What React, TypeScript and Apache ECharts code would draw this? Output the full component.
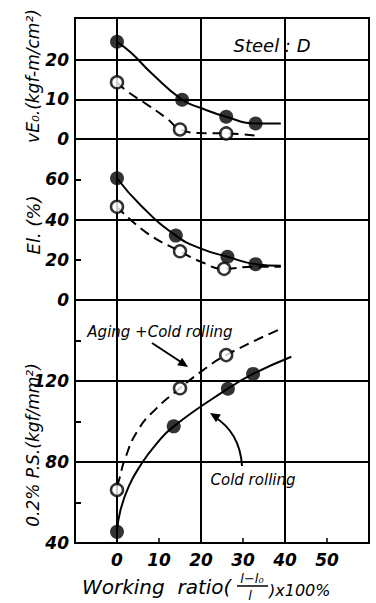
import React, { useEffect, useRef } from "react";
import * as echarts from "echarts";

// ---- data ----
const xTickLabels = [0, 10, 20, 30, 40, 50];
const topTickLabels = [0, 10, 20];
const midTickLabels = [0, 20, 40, 60];
const botTickLabels = [40, 80, 120];

// vE0 (kgf-m/cm2)
const vEcold = [[0, 24.5], [15.5, 9.9], [26, 5.6], [33, 3.9]];
const vEaging = [[0, 14.3], [15, 2.4], [26, 1.4]];
const vEcoldCurve = [[0, 24.5], [3.3, 21.8], [8.1, 16.7], [15.5, 9.9], [20, 7.8], [26, 5.6], [33, 3.9], [39, 3.9]];
const vEagingCurve = [[0, 14.3], [2.2, 12.2], [7.7, 8.3], [12.2, 4.9], [15, 2.4], [20, 1.5], [26, 1.4], [33.7, 0.8]];

// El (%)
const elCold = [[0, 60.5], [14, 32], [26.3, 21.5], [33, 17.8]];
const elAging = [[0, 46.3], [15, 24.2], [25.5, 15.5]];
const elColdCurve = [[0, 60.5], [5.8, 46.7], [14, 32], [20, 25.5], [26.3, 21.5], [33, 17.8], [39, 17]];
const elAgingCurve = [[0, 46.3], [7, 33.5], [15, 24.2], [20, 19], [25.5, 15.5], [32, 16.5], [39, 16.5]];

// 0.2% P.S. (kgf/mm2)
const psCold = [[0, 45.5], [13.5, 97.6], [26.4, 116.2], [32.4, 123.5]];
const psAging = [[0, 66.2], [15, 116.4], [26, 132.8]];
const psColdCurve = [[0, 45.5], [0.8, 56], [2.8, 68], [5.8, 79], [9, 88], [13.5, 97.6], [26.4, 116.2], [32.4, 123.5], [41.5, 132]];
const psAgingCurve = [[0, 68], [0.6, 72], [1.8, 81], [5, 95.8], [9.4, 106.5], [15, 116.4], [20, 124.6], [26, 132.8], [38.4, 145.2]];

// grid lines
const vGrid = [0, 20, 40];
const topHGrid = [10, 20];
const midHGrid = [40];
const botHGrid = [80, 120];

const FONT = "DejaVu Sans";

function arrowHead(tx: number, ty: number, fx: number, fy: number, len = 10, half = 4.5) {
  const dx = tx - fx, dy = ty - fy;
  const d = Math.sqrt(dx * dx + dy * dy);
  const ux = dx / d, uy = dy / d;
  const bx = tx - ux * len, by = ty - uy * len;
  return [[tx, ty], [bx - uy * half, by + ux * half], [bx + uy * half, by - ux * half]];
}

export default function App() {
  const ref = useRef<HTMLDivElement>(null);
  useEffect(() => {
    const chart = echarts.init(ref.current!, null, { renderer: "svg" });
    const grids = [
      { left: 75, right: 7, top: 18, height: 121 },
      { left: 75, right: 7, top: 139, height: 161 },
      { left: 75, right: 7, top: 300, height: 243 },
    ].map((g) => ({ ...g, show: true, borderColor: "#000", borderWidth: 2, backgroundColor: "transparent" }));

    const labelStyle = { fontFamily: FONT, fontStyle: "italic", fontWeight: "bold", fontSize: 17, color: "#000" };
    const mkX = (i: number) => ({
      type: "value",
      gridIndex: i,
      min: -10,
      max: 60,
      interval: 10,
      show: i === 2,
      axisLine: { show: true, onZero: false, lineStyle: { color: "#000", width: 2 } },
      axisTick: { show: true, inside: true, length: 5, lineStyle: { color: "#000", width: 1.5 } },
      splitLine: { show: false },
      axisLabel: {
        ...labelStyle,
        margin: 8,
        formatter: (v: number) => (xTickLabels.includes(v) ? String(v) : ""),
      },
    });
    const mkY = (i: number, min: number, max: number, interval: number, labels: number[], ticks: boolean) => ({
      type: "value",
      gridIndex: i,
      min,
      max,
      interval,
      axisLine: { show: true, onZero: false, lineStyle: { color: "#000", width: 2 } },
      axisTick: { show: ticks, inside: true, length: 6, lineStyle: { color: "#000", width: 2 } },
      splitLine: { show: false },
      axisLabel: {
        ...labelStyle,
        margin: 6,
        formatter: (v: number) => (labels.includes(v) ? String(v) : ""),
      },
    });

    const gridLines = (h: number[]) => ({
      silent: true,
      symbol: "none",
      label: { show: false },
      lineStyle: { color: "#000", width: 2, type: "solid" },
      data: [...vGrid.map((x) => ({ xAxis: x })), ...h.map((y) => ({ yAxis: y }))],
    });

    const curve = (i: number, data: number[][], dashed: boolean, h?: number[]) => ({
      type: "line",
      xAxisIndex: i,
      yAxisIndex: i,
      data,
      smooth: 0.5,
      showSymbol: false,
      symbol: "none",
      lineStyle: { color: "#000", width: 2, type: dashed ? [10, 6] : "solid" },
      z: 3,
      ...(h ? { markLine: gridLines(h) } : {}),
    });
    const dots = (i: number, data: number[][], filled: boolean) => ({
      type: "scatter",
      xAxisIndex: i,
      yAxisIndex: i,
      data,
      symbol: "circle",
      symbolSize: filled ? 14 : 12,
      itemStyle: filled
        ? { color: "#000" }
        : { color: "#fff", borderColor: "#000", borderWidth: 2.5 },
      z: 5,
    });

    const aTail = [152, 343], aTip = [188, 367];
    const cTail = [242, 466], cCtl = [240, 432], cTip = [210, 413];

    chart.setOption({
      animation: false,
      backgroundColor: "#fff",
      grid: grids,
      xAxis: [mkX(0), mkX(1), mkX(2)],
      yAxis: [
        mkY(0, 0, 30.5, 10, topTickLabels, false),
        mkY(1, 0, 80, 20, midTickLabels, true),
        mkY(2, 40, 160, 20, botTickLabels, true),
      ],
      series: [
        curve(0, vEcoldCurve, false, topHGrid),
        curve(0, vEagingCurve, true),
        dots(0, vEcold, true),
        dots(0, vEaging, false),
        curve(1, elColdCurve, false, midHGrid),
        curve(1, elAgingCurve, true),
        dots(1, elCold, true),
        dots(1, elAging, false),
        curve(2, psColdCurve, false, botHGrid),
        curve(2, psAgingCurve, true),
        dots(2, psCold, true),
        dots(2, psAging, false),
      ],
      graphic: [
        {
          type: "text", x: 272, y: 45,
          style: { text: "Steel : D", font: `italic 18px "${FONT}"`, fill: "#000", textAlign: "center", textVerticalAlign: "middle" },
        },
        {
          type: "text", x: 33, y: 76, rotation: Math.PI / 2,
          style: { text: "vE\u2080.(kgf-m/cm\u00b2)", font: `italic 17px "${FONT}"`, fill: "#000", textAlign: "center", textVerticalAlign: "middle" },
        },
        {
          type: "text", x: 33, y: 225, rotation: Math.PI / 2,
          style: { text: "El. (%)", font: `italic 18px "${FONT}"`, fill: "#000", textAlign: "center", textVerticalAlign: "middle" },
        },
        {
          type: "text", x: 33, y: 445, rotation: Math.PI / 2,
          style: { text: "0.2% P.S.(kgf/mm\u00b2)", font: `italic 17px "${FONT}"`, fill: "#000", textAlign: "center", textVerticalAlign: "middle" },
        },
        {
          type: "text", x: 160, y: 332,
          style: { text: "Aging +Cold rolling", font: `italic 15px "${FONT}"`, fill: "#000", textAlign: "center", textVerticalAlign: "middle" },
        },
        {
          type: "text", x: 253, y: 480,
          style: { text: "Cold rolling", font: `italic 15px "${FONT}"`, fill: "#000", textAlign: "center", textVerticalAlign: "middle" },
        },
        {
          type: "line",
          shape: { x1: aTail[0], y1: aTail[1], x2: aTip[0] - 4, y2: aTip[1] - 3 },
          style: { stroke: "#000", lineWidth: 2 },
        },
        { type: "polygon", shape: { points: arrowHead(aTip[0], aTip[1], aTail[0], aTail[1]) }, style: { fill: "#000" } },
        {
          type: "bezierCurve",
          shape: { x1: cTail[0], y1: cTail[1], x2: cTip[0] + 3, y2: cTip[1] + 3, cpx1: cCtl[0], cpy1: cCtl[1] },
          style: { stroke: "#000", lineWidth: 2, fill: "none" },
        },
        { type: "polygon", shape: { points: arrowHead(cTip[0], cTip[1], cCtl[0], cCtl[1]) }, style: { fill: "#000" } },
        // x-axis title
        {
          type: "text", x: 82, y: 587,
          style: { text: "Working  ratio(", font: `italic 20px "${FONT}"`, fill: "#000", textAlign: "left", textVerticalAlign: "middle" },
        },
        {
          type: "text", x: 252, y: 578,
          style: { text: "l\u2212l\u2080", font: `italic 13px "${FONT}"`, fill: "#000", textAlign: "center", textVerticalAlign: "middle" },
        },
        { type: "line", shape: { x1: 237, y1: 586, x2: 268, y2: 586 }, style: { stroke: "#000", lineWidth: 1.5 } },
        {
          type: "text", x: 250, y: 595,
          style: { text: "l", font: `italic 13px "${FONT}"`, fill: "#000", textAlign: "center", textVerticalAlign: "middle" },
        },
        {
          type: "text", x: 269, y: 590,
          style: { text: ")x100%", font: `italic 16px "${FONT}"`, fill: "#000", textAlign: "left", textVerticalAlign: "middle" },
        },
      ],
    });
    return () => chart.dispose();
  }, []);
  return (
    <div
      ref={ref}
      style={{ position: "fixed", left: 0, top: 0, width: 376, height: 603, background: "#fff" }}
    />
  );
}
